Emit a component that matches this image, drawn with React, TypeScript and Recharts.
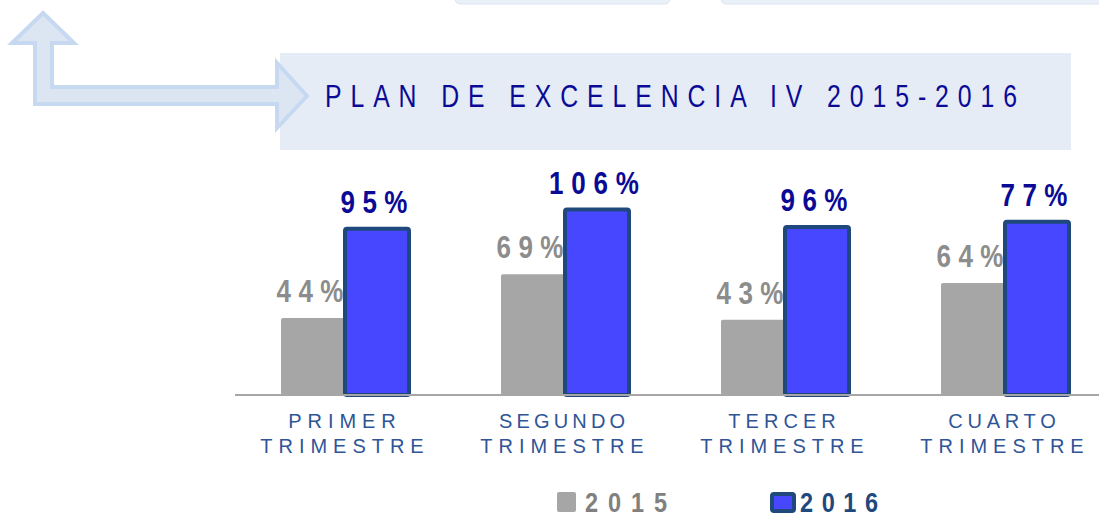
import React from 'react'
import { BarChart, Bar, XAxis, YAxis, LabelList } from 'recharts'

const categories = ['PRIMER TRIMESTRE', 'SEGUNDO TRIMESTRE', 'TERCER TRIMESTRE', 'CUARTO TRIMESTRE']
const values2015 = [44, 69, 43, 64]
const values2016 = [95, 106, 96, 99]
const labels2015 = ['44%', '69%', '43%', '64%']
const labels2016 = ['95%', '106%', '96%', '77%']
const seriesNames = ['2015', '2016']
const title = 'PLAN DE EXCELENCIA IV 2015-2016'

const FONT = "'Liberation Sans', Arial, sans-serif"
const GRAY = '#A6A6A6'
const BLUE = '#4747FF'
const NAVY = '#1F497D'

const data = categories.map((name, i) => ({
    name,
    y2015: values2015[i],
    y2016: values2016[i],
    l2015: labels2015[i],
    l2016: labels2016[i],
}))

// condensed text: squeeze glyphs horizontally, stretch the spacing to a given length
function NarrowText({ x, y, sx, length, anchor = 'start', children, ...rest }: any) {
    return (
        <text
            transform={`translate(${x},${y}) scale(${sx},1)`}
            x={0}
            y={0}
            textAnchor={anchor}
            fontFamily={FONT}
            textLength={length / sx}
            lengthAdjust="spacing"
            {...rest}
        >
            {children}
        </text>
    )
}

const makeLabel = (color: string) => (props: any) => {
    const { x, y, width, value } = props
    const text = String(value)
    return (
        <NarrowText
            x={Number(x) + Number(width) / 2 - 3}
            y={Number(y) - 16}
            sx={0.84}
            length={text.length * 23 - 2}
            anchor="middle"
            fill={color}
            fontWeight="bold"
            fontSize={31}
        >
            {text}
        </NarrowText>
    )
}

const CategoryTick = (props: any) => {
    const { x, y, payload } = props
    const lines = String(payload.value).split(' ')
    return (
        <g>
            {lines.map((line: string, i: number) => (
                <text
                    key={i}
                    x={x - 3}
                    y={y + 33 + i * 25}
                    textAnchor="middle"
                    fill="#2F5597"
                    fontFamily={FONT}
                    fontSize={20}
                    textLength={line.length * 18.6 - 4}
                    lengthAdjust="spacing"
                >
                    {line}
                </text>
            ))}
        </g>
    )
}

export default function App() {
    return (
        <div style={{ position: 'absolute', left: 0, top: 0, width: 1099, height: 515, overflow: 'hidden', background: '#fff' }}>
            <svg width={1099} height={515} style={{ position: 'absolute', left: 0, top: 0 }}>
                {/* small boxes cut off at the top */}
                <rect x={455} y={-10} width={215} height={14} rx={5} fill="#EAF0F7" stroke="#DCE5F1" />
                <rect x={721} y={-10} width={400} height={14} rx={5} fill="#EAF0F7" stroke="#DCE5F1" />

                <rect x={280} y={53} width={791} height={97} fill="#E5ECF6" />

                <polygon
                    points="43,13 74,43 52,43 52,87 277,87 277,63 307,96 277,128 277,104 35,104 35,43 12,43"
                    fill="#DCE6F2"
                    stroke="#C6D9F1"
                    strokeWidth={4}
                />

                <NarrowText x={325} y={107} sx={0.8} length={692} fill="#0A0A96" fontSize={31}>
                    {title}
                </NarrowText>

                {/* legend */}
                <rect x={557} y={492} width={19} height={20} rx={2} fill={GRAY} />
                <NarrowText x={585} y={512} sx={0.84} length={82} fill="#808080" fontWeight="bold" fontSize={28}>
                    {seriesNames[0]}
                </NarrowText>
                <rect x={772} y={494} width={22} height={17} rx={2} fill={BLUE} stroke={NAVY} strokeWidth={4} />
                <NarrowText x={800} y={512} sx={0.84} length={78} fill={NAVY} fontWeight="bold" fontSize={28}>
                    {seriesNames[1]}
                </NarrowText>
            </svg>

            <div style={{ position: 'absolute', left: 235, top: 145 }}>
                <BarChart
                    width={880}
                    height={370}
                    data={data}
                    margin={{ top: 40, right: 0, bottom: 60, left: 0 }}
                    barGap={0}
                    barSize={64}
                >
                    <XAxis
                        dataKey="name"
                        height={60}
                        axisLine={{ stroke: '#A6A6A6', strokeWidth: 2 }}
                        tickLine={false}
                        tickSize={0}
                        tickMargin={0}
                        interval={0}
                        tick={<CategoryTick />}
                    />
                    <YAxis hide domain={[0, 120]} />
                    <Bar dataKey="y2015" name={seriesNames[0]} fill={GRAY} radius={2} isAnimationActive={false}>
                        <LabelList dataKey="l2015" content={makeLabel('#8C8C8C')} />
                    </Bar>
                    <Bar dataKey="y2016" name={seriesNames[1]} fill={BLUE} stroke={NAVY} strokeWidth={4} radius={2} isAnimationActive={false}>
                        <LabelList dataKey="l2016" content={makeLabel('#0A0A96')} />
                    </Bar>
                </BarChart>
            </div>
        </div>
    )
}
